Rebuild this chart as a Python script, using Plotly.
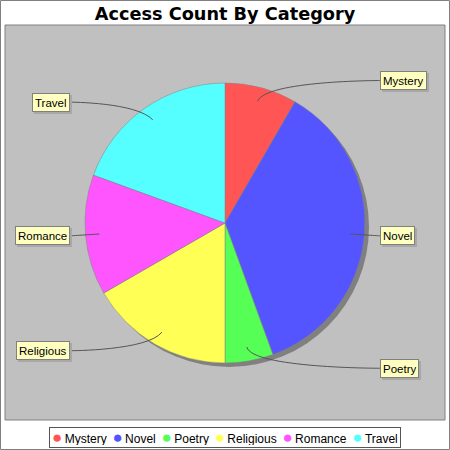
import math
import plotly.graph_objects as go

# ---- data ----
categories = ["Mystery", "Novel", "Poetry", "Religious", "Romance", "Travel"]
counts = [3, 13, 2, 6, 5, 7]
colors = ["#FF5555", "#5555FF", "#55FF55", "#FFFF55", "#FF55FF", "#55FFFF"]
title_text = "Access Count By Category"

# ---- geometry (pixels) ----
W, H = 450, 450
cx, cy, R = 225.0, 223.0, 140.0
link_rx, link_ry = 155.0, 147.5
plot_box = (5, 25, 445, 420)


def px(x):
    return x / W


def py(y):
    return 1 - y / H


fig = go.Figure()
fig.add_trace(go.Pie(
    labels=categories, values=counts, sort=False, direction="clockwise", rotation=0,
    marker=dict(colors=colors, line=dict(color="#808080", width=0.5)),
    textinfo="none", hoverinfo="skip", showlegend=False,
    domain=dict(x=[px(cx - R), px(cx + R)], y=[py(cy + R), py(cy - R)]),
))

shapes = [
    dict(type="rect", xref="paper", yref="paper", x0=px(0.5), x1=px(449.5), y0=py(449.5), y1=py(0.5),
         line=dict(color="#808080", width=1), fillcolor="white", layer="below"),
    dict(type="rect", xref="paper", yref="paper", x0=px(plot_box[0]), x1=px(plot_box[2]),
         y0=py(plot_box[3]), y1=py(plot_box[1]),
         line=dict(color="#808080", width=1), fillcolor="#C0C0C0", layer="below"),
    dict(type="circle", xref="paper", yref="paper", x0=px(cx - R + 4), x1=px(cx + R + 4),
         y0=py(cy + R + 4), y1=py(cy - R + 4), line=dict(width=0), fillcolor="#808080", layer="below"),
]

annotations = []
total = sum(counts)
cum = 0
for cat, v in zip(categories, counts):
    mid = (cum + v / 2) / total * 2 * math.pi
    cum += v
    s, c = math.sin(mid), math.cos(mid)
    lx, ly = cx + s * R * 0.9, cy - c * R * 0.9
    ex, ey = cx + s * link_rx, cy - c * link_ry
    right = s >= 0
    edge = cx + link_rx if right else cx - link_rx
    path = (f"M {px(lx)},{py(ly)} C {px(ex)},{py(ey)} {px(edge)},{py(ey)} {px(edge)},{py(ey)}")
    shapes.append(dict(type="path", xref="paper", yref="paper", path=path,
                       line=dict(color="#555555", width=1), layer="above"))
    common = dict(xref="paper", yref="paper", x=px(edge), y=py(ey), showarrow=False,
                  xanchor="left" if right else "right", yanchor="middle",
                  borderpad=2, borderwidth=1, text=cat, height=13)
    annotations.append(dict(common, font=dict(family="Liberation Sans", size=11.5, color="rgba(0,0,0,0)"),
                            bgcolor="#A8A8A8", bordercolor="#A8A8A8", xshift=2, yshift=-2))
    annotations.append(dict(common, font=dict(family="Liberation Sans", size=11.5, color="black"),
                            bgcolor="#FFFFC0", bordercolor="#808080"))

legend_text = " \u2009".join(
    f"<span style='color:{col};font-size:17px'>\u25cf</span>\u2009{cat}" for cat, col in zip(categories, colors))
annotations.append(dict(xref="paper", yref="paper", x=px(225), y=py(437.5), showarrow=False,
                        xanchor="center", yanchor="middle", text=legend_text,
                        font=dict(family="Liberation Sans", size=12, color="black"),
                        bgcolor="white", bordercolor="#555555", borderwidth=1, borderpad=2,
                        height=15))

fig.update_layout(
    width=W, height=H, margin=dict(l=0, r=0, t=0, b=0),
    paper_bgcolor="white", plot_bgcolor="white",
    title=dict(text=title_text, x=0.5, xanchor="center", xref="container",
               y=py(14), yanchor="middle", yref="container",
               font=dict(family="DejaVu Sans", size=17.7, weight="bold", color="black")),
    shapes=shapes, annotations=annotations, showlegend=False,
)

fig.write_html("out.html", config={"displayModeBar": False},
               post_script="document.body.style.margin='0';")
